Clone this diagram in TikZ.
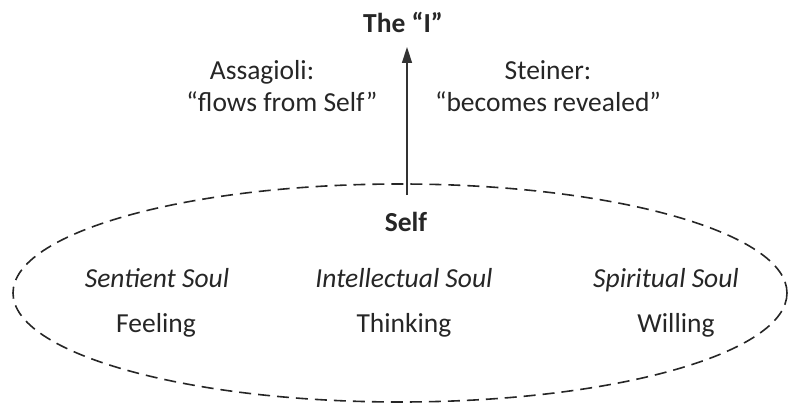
\documentclass[tikz,border=0pt]{standalone}
\usepackage{fontspec}
\setmainfont{Carlito}
\usetikzlibrary{arrows.meta}
\tikzset{
  lbl/.style={anchor=base, inner sep=0pt, text=black!85, font=\fontsize{27.5}{32}\selectfont},
  blbl/.style={lbl, font=\fontsize{27.5}{32}\selectfont\bfseries},
  ilbl/.style={lbl, font=\fontsize{27.5}{32}\selectfont\itshape},
  soulring/.style={draw=black!85, line width=1.6pt, dash pattern=on 12pt off 7pt},
  conn/.style={draw=black!80, line width=1.5pt, -{Triangle[length=16pt,width=10pt]}}
}
\begin{document}
\begin{tikzpicture}[x=1pt,y=-1pt]
\useasboundingbox (0,0) rectangle (788,404);
\draw[soulring] (400,293) ellipse [x radius=387, y radius=109];
\node[blbl] (I) at (403,33) {The “I”};
\node[lbl] (ass) at (262,80) {Assagioli:};
\node[lbl] (flows) at (282,112) {“flows from Self”};
\node[lbl] (st) at (548,80) {Steiner:};
\node[lbl] (rev) at (548,112) {“becomes revealed”};
\node[blbl] (self) at (406,231) {Self};
\coordinate (abot) at (407,195);
\coordinate (atop) at (407,47);
\draw[conn] (abot) -- (atop);
\node[ilbl] (sent) at (157,287) {Sentient Soul};
\node[ilbl] (intel) at (404,287) {Intellectual Soul};
\node[ilbl] (spir) at (666,287) {Spiritual Soul};
\node[lbl] (feel) at (156,332) {Feeling};
\node[lbl] (think) at (404,332) {Thinking};
\node[lbl] (will) at (676,332) {Willing};
\end{tikzpicture}
\end{document}
